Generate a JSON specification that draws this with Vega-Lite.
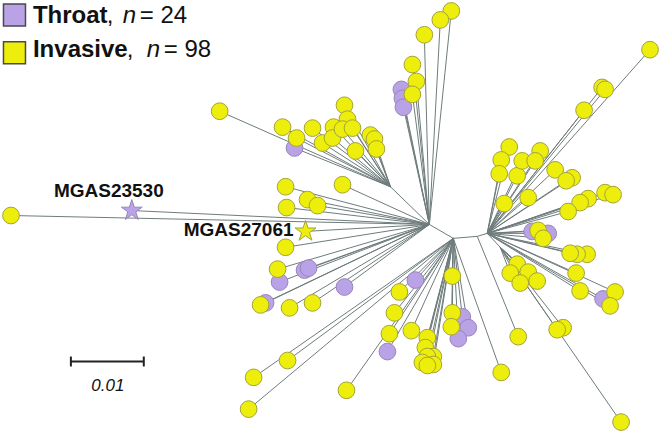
{
  "$schema": "https://vega.github.io/schema/vega-lite/v6.json",
  "width": 661,
  "height": 433,
  "padding": 0,
  "autosize": {"type": "fit", "contains": "padding"},
  "background": "white",
  "config": {"view": {"stroke": null}},
  "datasets": {
    "nodes": [
      {"id": "H0", "x": 429, "y": 224, "parent": null, "group": "internal", "kind": "internal"},
      {"id": "H1", "x": 453, "y": 238, "parent": "H0", "group": "internal", "kind": "internal"},
      {"id": "M", "x": 477, "y": 236, "parent": "H1", "group": "internal", "kind": "internal"},
      {"id": "H2", "x": 487, "y": 233, "parent": "M", "group": "internal", "kind": "internal"},
      {"id": "LC", "x": 390, "y": 186, "parent": "H0", "group": "internal", "kind": "internal"},
      {"id": "RL", "x": 500, "y": 247, "parent": "H2", "group": "internal", "kind": "internal"},
      {"x": 10, "y": 215, "parent": "H0", "group": "Invasive", "kind": "leaf"},
      {"x": 219, "y": 110, "parent": "LC", "group": "Invasive", "kind": "leaf"},
      {"x": 294, "y": 147, "parent": "LC", "group": "Throat", "kind": "leaf"},
      {"x": 282, "y": 126, "parent": "LC", "group": "Invasive", "kind": "leaf"},
      {"x": 296, "y": 137, "parent": "LC", "group": "Invasive", "kind": "leaf"},
      {"x": 312, "y": 127, "parent": "LC", "group": "Invasive", "kind": "leaf"},
      {"x": 322, "y": 142, "parent": "LC", "group": "Invasive", "kind": "leaf"},
      {"x": 344, "y": 104, "parent": "LC", "group": "Invasive", "kind": "leaf"},
      {"x": 333, "y": 126, "parent": "LC", "group": "Invasive", "kind": "leaf"},
      {"x": 332, "y": 137, "parent": "LC", "group": "Invasive", "kind": "leaf"},
      {"x": 347, "y": 118, "parent": "LC", "group": "Invasive", "kind": "leaf"},
      {"x": 342, "y": 128, "parent": "LC", "group": "Invasive", "kind": "leaf"},
      {"x": 352, "y": 127, "parent": "LC", "group": "Invasive", "kind": "leaf"},
      {"x": 355, "y": 150, "parent": "LC", "group": "Invasive", "kind": "leaf"},
      {"x": 370, "y": 134, "parent": "LC", "group": "Invasive", "kind": "leaf"},
      {"x": 374, "y": 138, "parent": "LC", "group": "Invasive", "kind": "leaf"},
      {"x": 376, "y": 148, "parent": "LC", "group": "Invasive", "kind": "leaf"},
      {"x": 285, "y": 186, "parent": "H0", "group": "Invasive", "kind": "leaf"},
      {"x": 342, "y": 184, "parent": "H0", "group": "Invasive", "kind": "leaf"},
      {"x": 286, "y": 207, "parent": "H0", "group": "Invasive", "kind": "leaf"},
      {"x": 307, "y": 199, "parent": "H0", "group": "Invasive", "kind": "leaf"},
      {"x": 317, "y": 205, "parent": "H0", "group": "Invasive", "kind": "leaf"},
      {"x": 285, "y": 247, "parent": "H0", "group": "Invasive", "kind": "leaf"},
      {"x": 279, "y": 282, "parent": "H0", "group": "Throat", "kind": "leaf"},
      {"x": 277, "y": 269, "parent": "H0", "group": "Invasive", "kind": "leaf"},
      {"x": 304, "y": 270, "parent": "H0", "group": "Throat", "kind": "leaf"},
      {"x": 308, "y": 268, "parent": "H0", "group": "Throat", "kind": "leaf"},
      {"x": 344, "y": 287, "parent": "H0", "group": "Throat", "kind": "leaf"},
      {"x": 265, "y": 303, "parent": "H0", "group": "Throat", "kind": "leaf"},
      {"x": 260, "y": 305, "parent": "H0", "group": "Invasive", "kind": "leaf"},
      {"x": 289, "y": 308, "parent": "H0", "group": "Invasive", "kind": "leaf"},
      {"x": 312, "y": 303, "parent": "H0", "group": "Invasive", "kind": "leaf"},
      {"x": 401, "y": 88, "parent": "H0", "group": "Throat", "kind": "leaf"},
      {"x": 402, "y": 97, "parent": "H0", "group": "Throat", "kind": "leaf"},
      {"x": 403, "y": 106, "parent": "H0", "group": "Throat", "kind": "leaf"},
      {"x": 451, "y": 9, "parent": "H0", "group": "Invasive", "kind": "leaf"},
      {"x": 440, "y": 18, "parent": "H0", "group": "Invasive", "kind": "leaf"},
      {"x": 424, "y": 33, "parent": "H0", "group": "Invasive", "kind": "leaf"},
      {"x": 412, "y": 63, "parent": "H0", "group": "Invasive", "kind": "leaf"},
      {"x": 416, "y": 80, "parent": "H0", "group": "Invasive", "kind": "leaf"},
      {"x": 412, "y": 93, "parent": "H0", "group": "Invasive", "kind": "leaf"},
      {"x": 287, "y": 361, "parent": "H1", "group": "Invasive", "kind": "leaf"},
      {"x": 253, "y": 378, "parent": "H1", "group": "Invasive", "kind": "leaf"},
      {"x": 248, "y": 410, "parent": "H1", "group": "Invasive", "kind": "leaf"},
      {"x": 346, "y": 391, "parent": "H1", "group": "Invasive", "kind": "leaf"},
      {"x": 415, "y": 280, "parent": "H1", "group": "Throat", "kind": "leaf"},
      {"x": 387, "y": 352, "parent": "H1", "group": "Throat", "kind": "leaf"},
      {"x": 399, "y": 292, "parent": "H1", "group": "Invasive", "kind": "leaf"},
      {"x": 394, "y": 313, "parent": "H1", "group": "Invasive", "kind": "leaf"},
      {"x": 389, "y": 334, "parent": "H1", "group": "Invasive", "kind": "leaf"},
      {"x": 411, "y": 331, "parent": "H1", "group": "Invasive", "kind": "leaf"},
      {"x": 462, "y": 317, "parent": "H1", "group": "Throat", "kind": "leaf"},
      {"x": 468, "y": 328, "parent": "H1", "group": "Throat", "kind": "leaf"},
      {"x": 458, "y": 339, "parent": "H1", "group": "Throat", "kind": "leaf"},
      {"x": 452, "y": 276, "parent": "H1", "group": "Invasive", "kind": "leaf"},
      {"x": 452, "y": 313, "parent": "H1", "group": "Invasive", "kind": "leaf"},
      {"x": 451, "y": 327, "parent": "H1", "group": "Invasive", "kind": "leaf"},
      {"x": 427, "y": 338, "parent": "H1", "group": "Invasive", "kind": "leaf"},
      {"x": 425, "y": 348, "parent": "H1", "group": "Invasive", "kind": "leaf"},
      {"x": 433, "y": 357, "parent": "H1", "group": "Invasive", "kind": "leaf"},
      {"x": 427, "y": 357, "parent": "H1", "group": "Invasive", "kind": "leaf"},
      {"x": 433, "y": 365, "parent": "H1", "group": "Invasive", "kind": "leaf"},
      {"x": 422, "y": 363, "parent": "H1", "group": "Invasive", "kind": "leaf"},
      {"x": 427, "y": 366, "parent": "H1", "group": "Invasive", "kind": "leaf"},
      {"x": 501, "y": 373, "parent": "H1", "group": "Invasive", "kind": "leaf"},
      {"x": 518, "y": 337, "parent": "M", "group": "Invasive", "kind": "leaf"},
      {"x": 650, "y": 48, "parent": "H2", "group": "Invasive", "kind": "leaf"},
      {"x": 602, "y": 86, "parent": "H2", "group": "Invasive", "kind": "leaf"},
      {"x": 605, "y": 88, "parent": "H2", "group": "Invasive", "kind": "leaf"},
      {"x": 584, "y": 109, "parent": "H2", "group": "Invasive", "kind": "leaf"},
      {"x": 509, "y": 146, "parent": "H2", "group": "Invasive", "kind": "leaf"},
      {"x": 501, "y": 159, "parent": "H2", "group": "Invasive", "kind": "leaf"},
      {"x": 499, "y": 173, "parent": "H2", "group": "Invasive", "kind": "leaf"},
      {"x": 517, "y": 175, "parent": "H2", "group": "Invasive", "kind": "leaf"},
      {"x": 522, "y": 160, "parent": "H2", "group": "Invasive", "kind": "leaf"},
      {"x": 540, "y": 150, "parent": "H2", "group": "Invasive", "kind": "leaf"},
      {"x": 535, "y": 160, "parent": "H2", "group": "Invasive", "kind": "leaf"},
      {"x": 555, "y": 169, "parent": "H2", "group": "Invasive", "kind": "leaf"},
      {"x": 572, "y": 177, "parent": "H2", "group": "Invasive", "kind": "leaf"},
      {"x": 566, "y": 180, "parent": "H2", "group": "Invasive", "kind": "leaf"},
      {"x": 504, "y": 203, "parent": "H2", "group": "Invasive", "kind": "leaf"},
      {"x": 528, "y": 197, "parent": "H2", "group": "Invasive", "kind": "leaf"},
      {"x": 588, "y": 198, "parent": "H2", "group": "Invasive", "kind": "leaf"},
      {"x": 580, "y": 202, "parent": "H2", "group": "Invasive", "kind": "leaf"},
      {"x": 568, "y": 211, "parent": "H2", "group": "Invasive", "kind": "leaf"},
      {"x": 605, "y": 192, "parent": "H2", "group": "Invasive", "kind": "leaf"},
      {"x": 613, "y": 194, "parent": "H2", "group": "Invasive", "kind": "leaf"},
      {"x": 532, "y": 231, "parent": "H2", "group": "Throat", "kind": "leaf"},
      {"x": 548, "y": 233, "parent": "H2", "group": "Throat", "kind": "leaf"},
      {"x": 538, "y": 230, "parent": "H2", "group": "Invasive", "kind": "leaf"},
      {"x": 543, "y": 238, "parent": "H2", "group": "Invasive", "kind": "leaf"},
      {"x": 587, "y": 254, "parent": "H2", "group": "Invasive", "kind": "leaf"},
      {"x": 577, "y": 254, "parent": "H2", "group": "Invasive", "kind": "leaf"},
      {"x": 570, "y": 253, "parent": "H2", "group": "Invasive", "kind": "leaf"},
      {"x": 576, "y": 273, "parent": "H2", "group": "Invasive", "kind": "leaf"},
      {"x": 580, "y": 291, "parent": "H2", "group": "Invasive", "kind": "leaf"},
      {"x": 603, "y": 299, "parent": "H2", "group": "Throat", "kind": "leaf"},
      {"x": 615, "y": 292, "parent": "H2", "group": "Invasive", "kind": "leaf"},
      {"x": 610, "y": 306, "parent": "H2", "group": "Invasive", "kind": "leaf"},
      {"x": 517, "y": 264, "parent": "RL", "group": "Invasive", "kind": "leaf"},
      {"x": 528, "y": 272, "parent": "RL", "group": "Invasive", "kind": "leaf"},
      {"x": 510, "y": 273, "parent": "RL", "group": "Invasive", "kind": "leaf"},
      {"x": 520, "y": 283, "parent": "RL", "group": "Invasive", "kind": "leaf"},
      {"x": 537, "y": 281, "parent": "RL", "group": "Invasive", "kind": "leaf"},
      {"x": 563, "y": 328, "parent": "RL", "group": "Invasive", "kind": "leaf"},
      {"x": 557, "y": 330, "parent": "RL", "group": "Invasive", "kind": "leaf"},
      {"x": 621, "y": 423, "parent": "RL", "group": "Invasive", "kind": "leaf"},
      {"x": 131, "y": 210, "parent": "H0", "group": "Throat", "kind": "star"},
      {"x": 305, "y": 231, "parent": "H0", "group": "Invasive", "kind": "star"}
    ]
  },
  "layer": [
    {
      "data": {"name": "nodes"},
      "transform": [
        {"filter": "datum.parent != null"},
        {"lookup": "parent", "from": {"data": {"name": "nodes"}, "key": "id", "fields": ["x", "y"]}, "as": ["px", "py"]}
      ],
      "mark": {"type": "rule", "color": "#6f7c7c", "strokeWidth": 1},
      "encoding": {
        "x": {"field": "x", "type": "quantitative", "scale": {"domain": [0, 661], "nice": false, "zero": false}, "axis": null},
        "y": {"field": "y", "type": "quantitative", "scale": {"domain": [0, 433], "nice": false, "zero": false, "reverse": true}, "axis": null},
        "x2": {"field": "px"},
        "y2": {"field": "py"}
      }
    },
    {
      "data": {"name": "nodes"},
      "transform": [{"filter": "datum.kind != 'internal'"}],
      "mark": {"type": "point", "filled": true, "opacity": 1, "strokeWidth": 1},
      "encoding": {
        "x": {"field": "x", "type": "quantitative"},
        "y": {"field": "y", "type": "quantitative"},
        "shape": {"field": "kind", "type": "nominal", "scale": {"domain": ["leaf", "star"], "range": ["circle", "M0,-1L0.225,-0.309L0.951,-0.309L0.363,0.118L0.588,0.809L0,0.382L-0.588,0.809L-0.363,0.118L-0.951,-0.309L-0.225,-0.309Z"]}, "legend": null},
        "size": {"field": "kind", "type": "nominal", "scale": {"domain": ["leaf", "star"], "range": [280, 480]}, "legend": null},
        "fill": {"field": "group", "type": "nominal", "scale": {"domain": ["Throat", "Invasive"], "range": ["#b9a2e6", "#eeee0c"]}, "legend": null},
        "stroke": {"field": "group", "type": "nominal", "scale": {"domain": ["Throat", "Invasive"], "range": ["#9786bb", "#a3a33a"]}, "legend": null}
      }
    },
    {
      "data": {"values": [
        {"x": 13.5, "y": 13, "group": "Throat"},
        {"x": 13.5, "y": 51, "group": "Invasive"}
      ]},
      "mark": {"type": "square", "filled": true, "opacity": 1, "size": 484, "stroke": "#4a4a4a", "strokeWidth": 1.5},
      "encoding": {
        "x": {"field": "x", "type": "quantitative"},
        "y": {"field": "y", "type": "quantitative"},
        "fill": {"field": "group", "type": "nominal", "legend": null}
      }
    },
    {
      "data": {"values": [
        {"x": 32, "y": 21, "text": "Throat"},
        {"x": 32, "y": 55, "text": "Invasive"}
      ]},
      "mark": {"type": "text", "align": "left", "baseline": "alphabetic", "font": "Liberation Sans", "fontSize": 24, "fontWeight": "bold", "fill": "#111111"},
      "encoding": {
        "x": {"field": "x", "type": "quantitative"},
        "y": {"field": "y", "type": "quantitative"},
        "text": {"field": "text"}
      }
    },
    {
      "data": {"values": [
        {"x": 106, "y": 21, "text": ","},
        {"x": 139, "y": 21, "text": "= 24"},
        {"x": 126, "y": 55, "text": ","},
        {"x": 163, "y": 55, "text": "= 98"}
      ]},
      "mark": {"type": "text", "align": "left", "baseline": "alphabetic", "font": "Liberation Sans", "fontSize": 24, "fill": "#111111"},
      "encoding": {
        "x": {"field": "x", "type": "quantitative"},
        "y": {"field": "y", "type": "quantitative"},
        "text": {"field": "text"}
      }
    },
    {
      "data": {"values": [
        {"x": 122, "y": 21, "text": "n"},
        {"x": 146, "y": 55, "text": "n"}
      ]},
      "mark": {"type": "text", "align": "left", "baseline": "alphabetic", "font": "Liberation Sans", "fontSize": 24, "fontStyle": "italic", "fill": "#111111"},
      "encoding": {
        "x": {"field": "x", "type": "quantitative"},
        "y": {"field": "y", "type": "quantitative"},
        "text": {"field": "text"}
      }
    },
    {
      "data": {"values": [
        {"x": 53, "y": 196, "text": "MGAS23530", "anchor": "left"}
      ]},
      "mark": {"type": "text", "align": "left", "baseline": "alphabetic", "font": "Liberation Sans", "fontSize": 19, "fontWeight": "bold", "fill": "#111111"},
      "encoding": {
        "x": {"field": "x", "type": "quantitative"},
        "y": {"field": "y", "type": "quantitative"},
        "text": {"field": "text"}
      }
    },
    {
      "data": {"values": [
        {"x": 293, "y": 236, "text": "MGAS27061"}
      ]},
      "mark": {"type": "text", "align": "right", "baseline": "alphabetic", "font": "Liberation Sans", "fontSize": 19, "fontWeight": "bold", "fill": "#111111"},
      "encoding": {
        "x": {"field": "x", "type": "quantitative"},
        "y": {"field": "y", "type": "quantitative"},
        "text": {"field": "text"}
      }
    },
    {
      "data": {"values": [
        {"x": 70, "y": 362, "x2": 143, "y2": 362},
        {"x": 70, "y": 357, "x2": 70, "y2": 367},
        {"x": 143, "y": 357, "x2": 143, "y2": 367}
      ]},
      "mark": {"type": "rule", "color": "#222222", "strokeWidth": 2},
      "encoding": {
        "x": {"field": "x", "type": "quantitative"},
        "y": {"field": "y", "type": "quantitative"},
        "x2": {"field": "x2"},
        "y2": {"field": "y2"}
      }
    },
    {
      "data": {"values": [
        {"x": 107, "y": 392, "text": "0.01"}
      ]},
      "mark": {"type": "text", "align": "center", "baseline": "alphabetic", "font": "Liberation Sans", "fontSize": 17, "fontStyle": "italic", "fill": "#111111"},
      "encoding": {
        "x": {"field": "x", "type": "quantitative"},
        "y": {"field": "y", "type": "quantitative"},
        "text": {"field": "text"}
      }
    }
  ]
}
